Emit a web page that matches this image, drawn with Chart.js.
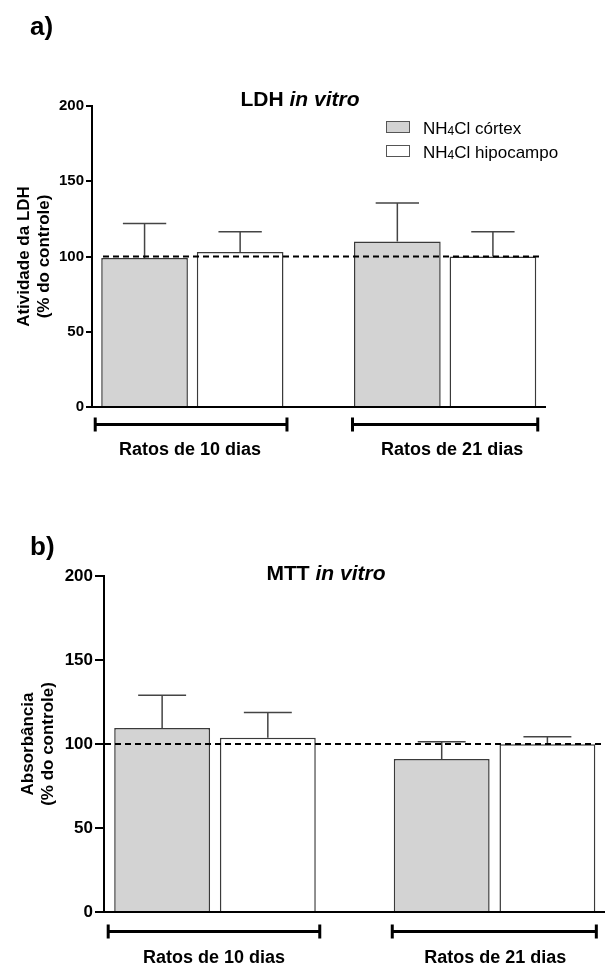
<!DOCTYPE html>
<html>
<head>
<meta charset="utf-8">
<script src="https://cdn.jsdelivr.net/npm/chart.js@4.4.1/dist/chart.umd.min.js"></script>
<style>
    body { margin: 0; background: #fff; }
    #page { position: relative; width: 605px; height: 967px; font-family: 'Liberation Sans', Arial, sans-serif; }
    .panel { position: absolute; left: 0; width: 605px; }
    .tag { position: absolute; left: 30px; font-weight: bold; font-size: 26px; line-height: 26px; }
</style>
</head>
<body>
<div id="page">
    <div class="panel" style="top:0;height:500px"><canvas id="ldh-chart"></canvas></div>
    <div class="panel" style="top:500px;height:467px"><canvas id="mtt-chart"></canvas></div>
    <div class="tag" style="top:13px">a)</div>
    <div class="tag" style="top:533px">b)</div>
</div>
<script>
// groups on the x axis and the two series
const groups = ['Ratos de 10 dias', 'Ratos de 21 dias'];
const seriesNames = ['NH4Cl córtex', 'NH4Cl hipocampo'];
const yTicks = [0, 50, 100, 150, 200];

// a) LDH in vitro, % of control (mean and upper SD)
const ldhCortex = [99, 110];
const ldhCortexSD = [23, 25.5];
const ldhHipocampo = [103, 100];
const ldhHipocampoSD = [13.5, 16.5];

// b) MTT in vitro, % of control
const mttCortex = [109.5, 91];
const mttCortexSD = [19.5, 10.3];
const mttHipocampo = [103.7, 99.8];
const mttHipocampoSD = [15, 4.5];

const FONT = "'Liberation Sans', Arial, sans-serif";

// bar slot positions on a linear x axis: group g, series s
function xPos(g, s) {
    return 0.55 + g * 2.645 + s;
}

// draws text like NH4Cl with the digit smaller
function drawChem(ctx, text, x, y, size) {
    text.split(/(\d)/).forEach(part => {
        if (!part) return;
        const isDigit = /^\d$/.test(part);
        ctx.font = (isDigit ? Math.round(size * 0.7) : size) + 'px ' + FONT;
        ctx.fillText(part, x, y + (isDigit ? 1 : 0));
        x += ctx.measureText(part).width;
    });
}

const barExtras = {
    id: 'barExtras',
    afterDatasetsDraw(chart, args, o) {
        const ctx = chart.ctx, y = chart.scales.y, area = chart.chartArea;
        ctx.save();
        // upper error bars
        chart.data.datasets.forEach((ds, i) => {
            chart.getDatasetMeta(i).data.forEach((bar, j) => {
                const top = y.getPixelForValue(ds.data[j].y + ds.sd[j]);
                const half = bar.width * 0.25;
                ctx.strokeStyle = '#444';
                ctx.lineWidth = 1.5;
                ctx.beginPath();
                ctx.moveTo(bar.x, bar.y);
                ctx.lineTo(bar.x, top);
                ctx.moveTo(bar.x - half, top);
                ctx.lineTo(bar.x + half, top);
                ctx.stroke();
            });
        });
        // control line at 100%
        const yRef = y.getPixelForValue(100);
        ctx.setLineDash([6, 4]);
        ctx.lineWidth = 2;
        ctx.strokeStyle = '#000';
        ctx.beginPath();
        ctx.moveTo(area.left + o.refStart, yRef);
        ctx.lineTo(area.right - o.refEnd, yRef);
        ctx.stroke();
        ctx.restore();
    },
    afterDraw(chart, args, o) {
        const ctx = chart.ctx, area = chart.chartArea;
        const m0 = chart.getDatasetMeta(0).data, m1 = chart.getDatasetMeta(1).data;
        ctx.save();
        ctx.fillStyle = '#000';
        ctx.strokeStyle = '#000';

        // group brackets and labels
        groups.forEach((name, g) => {
            const l = m0[g].x - m0[g].width / 2 - o.bracketPad[g][0];
            const r = m1[g].x + m1[g].width / 2 + o.bracketPad[g][1];
            const by = area.bottom + o.bracketGap;
            ctx.lineWidth = 3;
            ctx.beginPath();
            ctx.moveTo(l, by); ctx.lineTo(r, by);
            ctx.moveTo(l, by - 7); ctx.lineTo(l, by + 7);
            ctx.moveTo(r, by - 7); ctx.lineTo(r, by + 7);
            ctx.stroke();
            ctx.font = 'bold 18px ' + FONT;
            ctx.textAlign = 'center';
            ctx.textBaseline = 'alphabetic';
            ctx.fillText(name, (l + r) / 2 + o.labelShift[g], by + o.labelGap);
        });

        // title: "XXX in vitro"
        ctx.textAlign = 'left';
        const a = o.title[0] + ' ', b = o.title[1];
        ctx.font = 'bold 21px ' + FONT;
        const wa = ctx.measureText(a).width;
        ctx.font = 'italic bold 21px ' + FONT;
        const wb = ctx.measureText(b).width;
        let tx = o.titleX - (wa + wb) / 2;
        ctx.font = 'bold 21px ' + FONT;
        ctx.fillText(a, tx, o.titleY);
        ctx.font = 'italic bold 21px ' + FONT;
        ctx.fillText(b, tx + wa, o.titleY);

        // legend
        if (o.legend) {
            const L = o.legend;
            chart.data.datasets.forEach((ds, i) => {
                const by = L.y + i * L.gap;
                ctx.fillStyle = ds.backgroundColor;
                ctx.fillRect(L.x, by, 24, 12);
                ctx.strokeStyle = '#555';
                ctx.lineWidth = 1;
                ctx.strokeRect(L.x + 0.5, by + 0.5, 23, 11);
                ctx.fillStyle = '#000';
                drawChem(ctx, ds.label, L.x + 37, by + 13, 17);
            });
        }
        ctx.restore();
    }
};

function makeChart(id, cortex, cortexSD, hipo, hipoSD, cfg) {
    const ctx = document.getElementById(id).getContext('2d');
    const barStyle = {
        borderColor: '#3a3a3a',
        borderWidth: 1.5,
        barPercentage: 0.907,
        categoryPercentage: 1,
        grouped: false
    };
    return new Chart(ctx, {
        type: 'bar',
        data: {
            datasets: [
                Object.assign({
                    label: seriesNames[0],
                    data: cortex.map((v, g) => ({ x: xPos(g, 0), y: v })),
                    sd: cortexSD,
                    backgroundColor: '#d3d3d3'
                }, barStyle),
                Object.assign({
                    label: seriesNames[1],
                    data: hipo.map((v, g) => ({ x: xPos(g, 1), y: v })),
                    sd: hipoSD,
                    backgroundColor: '#ffffff'
                }, barStyle)
            ]
        },
        options: {
            responsive: true,
            maintainAspectRatio: false,
            animation: false,
            layout: { padding: cfg.padding },
            scales: {
                x: {
                    type: 'linear',
                    min: 0,
                    max: 4.74,
                    offset: false,
                    grid: { display: false },
                    ticks: { display: false, stepSize: 10 },
                    border: { color: '#000', width: 2 },
                    afterFit: s => { s.height = 0; }
                },
                y: {
                    min: yTicks[0],
                    max: yTicks[yTicks.length - 1],
                    afterBuildTicks: s => { s.ticks = yTicks.map(v => ({ value: v })); },
                    grid: { drawOnChartArea: false, color: '#000', lineWidth: 2, tickLength: cfg.tickLength },
                    border: { color: '#000', width: 2 },
                    ticks: {
                        color: '#000',
                        padding: 2,
                        font: { family: FONT, size: cfg.tickSize, weight: 'bold' }
                    },
                    title: {
                        display: true,
                        text: cfg.yTitle,
                        color: '#000',
                        padding: { top: cfg.titlePad, bottom: 0 },
                        font: { family: FONT, size: cfg.yTitleSize, weight: 'bold', lineHeight: cfg.yTitleLH }
                    },
                    afterFit: s => { s.width = cfg.axisLeft; }
                }
            },
            plugins: {
                legend: { display: false },
                tooltip: { enabled: false },
                barExtras: cfg.extras
            }
        },
        plugins: [barExtras]
    });
}

makeChart('ldh-chart', ldhCortex, ldhCortexSD, ldhHipocampo, ldhHipocampoSD, {
    padding: { top: 106, right: 60, bottom: 93, left: 0 },
    axisLeft: 92,
    tickLength: 6,
    tickSize: 15,
    yTitle: ['Atividade da LDH', '(% do controle)'],
    yTitleSize: 17,
    yTitleLH: 1.15,
    titlePad: 15,
    extras: {
        refStart: 11, refEnd: 3,
        bracketGap: 17.5, labelGap: 30,
        bracketPad: [[6, 3.5], [1.5, 1.5]],
        labelShift: [-1, 7],
        title: ['LDH', 'in vitro'], titleX: 300, titleY: 106,
        legend: { x: 386, y: 121, gap: 24 }
    }
});

makeChart('mtt-chart', mttCortex, mttCortexSD, mttHipocampo, mttHipocampoSD, {
    padding: { top: 76, right: 0, bottom: 55, left: 0 },
    axisLeft: 104,
    tickLength: 9,
    tickSize: 17,
    yTitle: ['Absorbância', '(% do controle)'],
    yTitleSize: 17,
    yTitleLH: 1.18,
    titlePad: 18,
    extras: {
        refStart: 1, refEnd: 0,
        bracketGap: 19.5, labelGap: 31,
        bracketPad: [[6, 4], [1.5, 1]],
        labelShift: [0, 1],
        title: ['MTT', 'in vitro'], titleX: 326, titleY: 80,
        legend: null
    }
});
</script>
</body>
</html>
